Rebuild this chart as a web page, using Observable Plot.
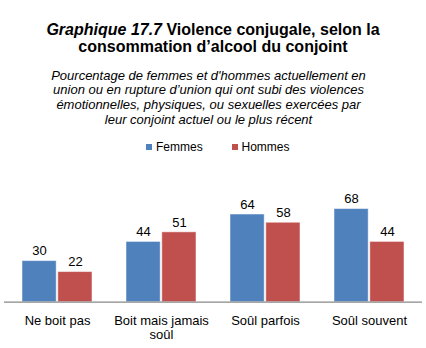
<!DOCTYPE html>
<html>
<head>
<meta charset="utf-8">
<script src="https://cdn.jsdelivr.net/npm/d3@7"></script>
<script src="https://cdn.jsdelivr.net/npm/@observablehq/plot@0.6"></script>
<style>
  html, body { margin: 0; padding: 0; background: #fff; }
  body { width: 426px; height: 348px; position: relative; overflow: hidden; font-family: "Liberation Sans", Arial, sans-serif; color: #000; }
  .title { position: absolute; left: 0; top: 22px; width: 426px; text-align: center; font-size: 16px; font-weight: bold; line-height: 16.5px; }
  .subtitle { position: absolute; left: -4.5px; top: 68.6px; width: 426px; text-align: center; font-size: 13px; font-style: italic; line-height: 14.8px; }
  .legend { position: absolute; top: 140px; left: 0; width: 426px; height: 14px; font-size: 12px; }
  .legend span.item { position: absolute; top: 0; line-height: 14px; white-space: nowrap; }
  .legend span.sw { display: inline-block; width: 6px; height: 6px; margin-right: 4px; vertical-align: 1px; }
  #chart { position: absolute; left: 0; top: 0; }
</style>
</head>
<body>
<div class="title"><i>Graphique 17.7</i> Violence conjugale, selon la<br>consommation d’alcool du conjoint</div>
<div class="subtitle">Pourcentage de femmes et d'hommes actuellement en<br>union ou en rupture d’union qui ont subi des violences<br>émotionnelles, physiques, ou sexuelles exercées par<br>leur conjoint actuel ou le plus récent</div>
<div class="legend" id="legend"></div>
<div id="chart"></div>
<script>
const categories = ["Ne boit pas", "Boit mais jamais soûl", "Soûl parfois", "Soûl souvent"];
const tickLabels = ["Ne boit pas", "Boit mais jamais\nsoûl", "Soûl parfois", "Soûl souvent"];
const series = ["Femmes", "Hommes"];
const femmes = [30, 44, 64, 68];
const hommes = [22, 51, 58, 44];
const colors = ["#4F81BD", "#C0504D"];

const dataF = categories.map((c, i) => ({category: c, value: femmes[i]}));
const dataH = categories.map((c, i) => ({category: c, value: hommes[i]}));

// legend
const legend = document.getElementById("legend");
const legendX = [146, 231.5];
series.forEach((s, i) => {
  const it = document.createElement("span");
  it.className = "item";
  it.style.left = legendX[i] + "px";
  it.innerHTML = `<span class="sw" style="background:${colors[i]}"></span>${s}`;
  legend.appendChild(it);
});

const bw = 34;
const band = 69.8;
const inset = band - bw;

const plot = Plot.plot({
  width: 426,
  height: 348,
  marginLeft: 4,
  marginRight: 4,
  marginTop: 164.7,
  marginBottom: 46.3,
  style: {fontFamily: "Liberation Sans, Arial, sans-serif", fontSize: "13px", color: "#000", background: "transparent", overflow: "visible"},
  x: {domain: categories, paddingInner: 0.33, paddingOuter: 0.17},
  y: {domain: [0, 100], axis: null},
  marks: [
    Plot.barY(dataF, {x: "category", y: "value", fill: colors[0], insetRight: inset, stroke: "#ffffff", strokeOpacity: 0.5, strokeWidth: 1}),
    Plot.barY(dataH, {x: "category", y: "value", fill: colors[1], insetLeft: inset, stroke: "#ffffff", strokeOpacity: 0.5, strokeWidth: 1}),
    Plot.text(dataF, {x: "category", y: "value", text: d => String(d.value), dx: -(band / 2 - bw / 2), dy: -10, fontSize: 13, fill: "#000"}),
    Plot.text(dataH, {x: "category", y: "value", text: d => String(d.value), dx: (band / 2 - bw / 2), dy: -10, fontSize: 13, fill: "#000"}),
    Plot.ruleY([0], {stroke: "#888888", strokeWidth: 1.3}),
    Plot.axisX({tickSize: 0, tickPadding: 12, fontSize: 13, lineHeight: 1.13, tickFormat: d => tickLabels[categories.indexOf(d)], label: null, fill: "#000"})
  ]
});
document.getElementById("chart").appendChild(plot);
</script>
</body>
</html>
